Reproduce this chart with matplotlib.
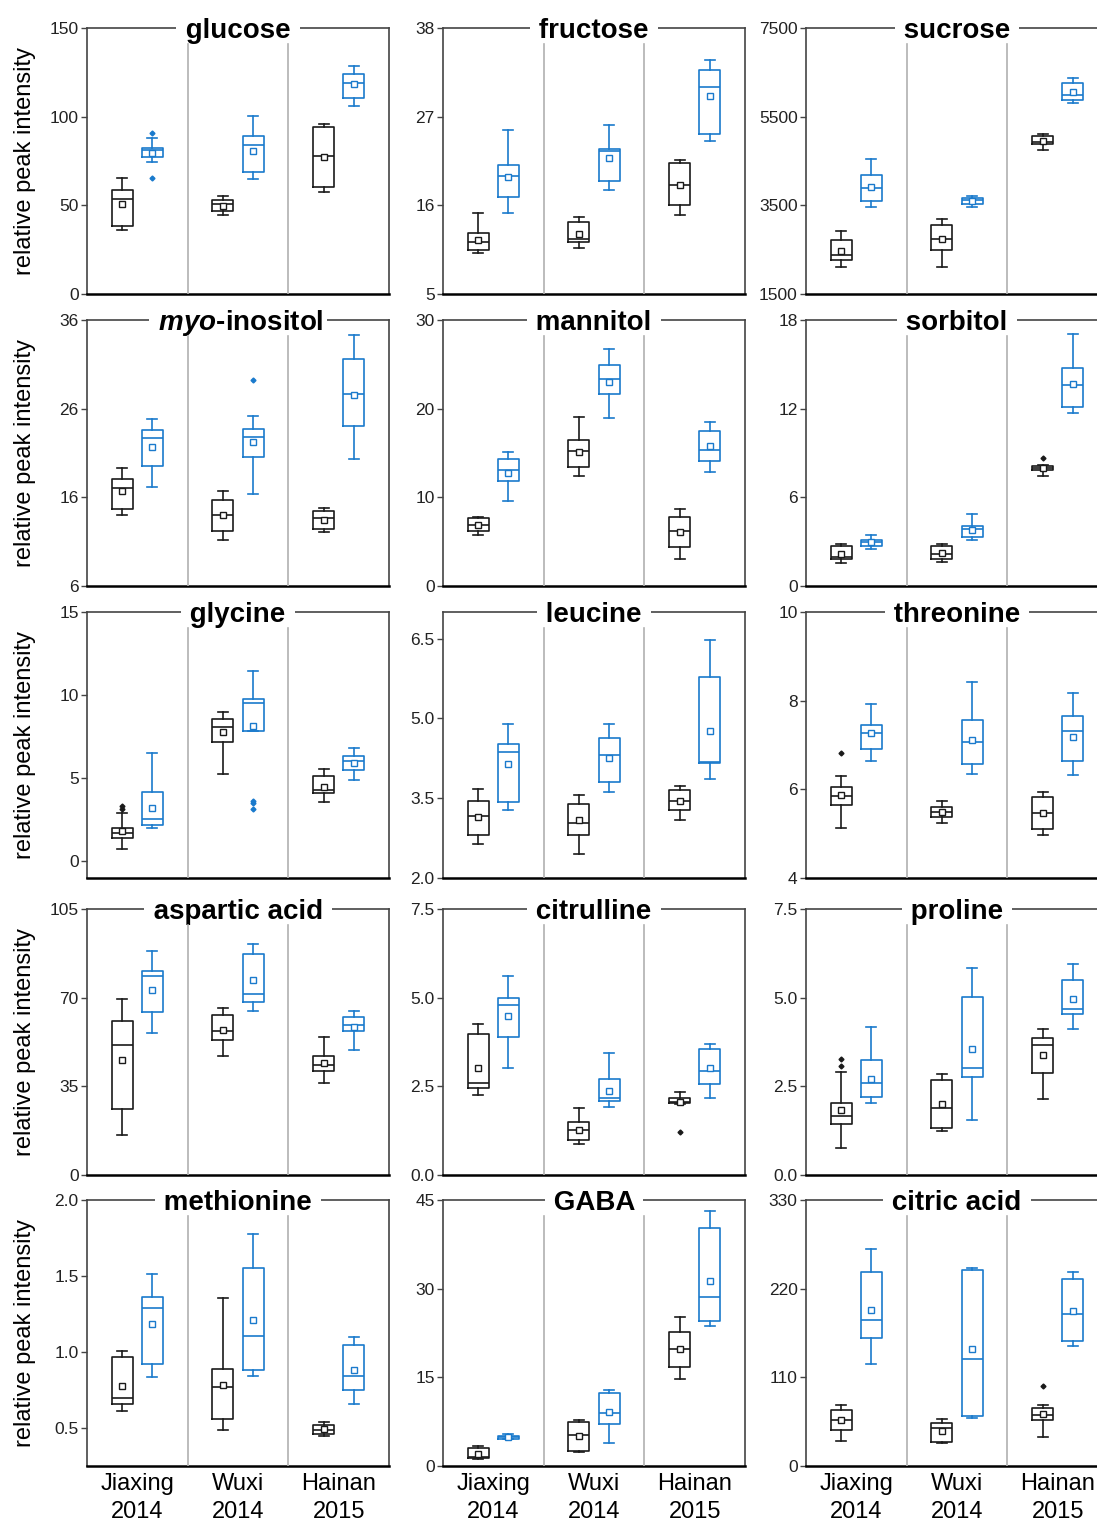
import matplotlib
matplotlib.use("Agg")
import matplotlib.pyplot as plt

plt.rcParams['font.family'] = ['Liberation Sans', 'DejaVu Sans']
plt.rcParams['mathtext.fontset'] = 'custom'
plt.rcParams['mathtext.bfit'] = 'Liberation Sans:italic:bold'
plt.rcParams['mathtext.rm'] = 'Liberation Sans:bold'

groups = ["Jiaxing\n2014", "Wuxi\n2014", "Hainan\n2015"]

# box order: Jiaxing black, Jiaxing blue, Wuxi black, Wuxi blue, Hainan black, Hainan blue
# columns: whisker low, q1, median, q3, whisker high, mean
glucose = [[36.1, 38.4, 53.6, 58.5, 65.5, 51.0],
           [74.2, 77.0, 81.1, 82.3, 88.1, 79.6],
           [44.6, 46.9, 51.0, 52.9, 55.0, 49.7],
           [64.7, 68.7, 84.3, 89.2, 100.3, 80.7],
           [57.6, 60.4, 77.9, 94.1, 95.8, 77.2],
           [106.2, 110.5, 118.8, 124.2, 128.4, 118.2]]
glucose_out = [[], [90.9, 65.3], [], [], [], []]

fructose = [[10.1, 10.4, 11.45, 12.6, 15.0, 11.7],
            [15.0, 17.0, 19.6, 21.0, 25.4, 19.5],
            [10.7, 11.4, 11.8, 13.9, 14.6, 12.4],
            [17.9, 19.0, 22.7, 23.0, 26.0, 21.9],
            [14.85, 16.05, 18.5, 21.2, 21.6, 18.5],
            [23.95, 24.9, 30.7, 32.8, 34.0, 29.6]]
fructose_out = [[], [], [], [], [], []]

sucrose = [[2117, 2267, 2380, 2718, 2929, 2470],
           [3462, 3598, 3891, 4184, 4538, 3921],
           [2102, 2492, 2748, 3056, 3199, 2741],
           [3455, 3530, 3613, 3658, 3711, 3598],
           [4741, 4891, 4921, 5056, 5102, 4959],
           [5801, 5884, 5981, 6260, 6380, 6049]]
sucrose_out = [[], [], [], [], [], []]

inositol = [[14.0, 14.7, 17.1, 18.1, 19.35, 16.7],
            [17.2, 19.5, 22.65, 23.55, 24.8, 21.7],
            [11.2, 12.2, 14.0, 15.7, 16.7, 14.0],
            [16.35, 20.55, 22.75, 23.75, 25.2, 22.2],
            [12.1, 12.45, 13.65, 14.5, 14.85, 13.45],
            [20.35, 24.0, 27.7, 31.6, 34.35, 27.55]]
inositol_out = [[], [], [], [29.2], [], []]

mannitol = [[5.7, 6.25, 6.9, 7.65, 7.75, 6.85],
            [9.6, 11.85, 13.1, 14.35, 15.1, 12.75],
            [12.45, 13.4, 15.2, 16.45, 19.1, 15.1],
            [18.9, 21.65, 23.3, 24.9, 26.75, 23.0],
            [3.0, 4.35, 6.2, 7.8, 8.7, 6.05],
            [12.85, 14.05, 15.35, 17.5, 18.45, 15.75]]
mannitol_out = [[], [], [], [], [], []]

sorbitol = [[1.58, 1.81, 1.96, 2.69, 2.87, 2.19],
            [2.48, 2.69, 3.0, 3.14, 3.46, 2.96],
            [1.63, 1.81, 2.15, 2.69, 2.82, 2.21],
            [3.09, 3.34, 3.84, 4.07, 4.9, 3.79],
            [7.45, 7.84, 7.97, 8.13, 8.2, 8.0],
            [11.74, 12.13, 13.57, 14.75, 17.03, 13.66]]
sorbitol_out = [[], [], [], [], [8.69], []]

glycine = [[0.76, 1.43, 1.71, 2.03, 2.91, 1.83],
           [2.03, 2.21, 2.57, 4.18, 6.51, 3.23],
           [5.26, 7.21, 8.07, 8.59, 9.0, 7.79],
           [7.85, 7.87, 9.5, 9.74, 11.47, 8.17],
           [3.55, 4.1, 4.3, 5.14, 5.58, 4.5],
           [4.92, 5.48, 6.06, 6.33, 6.79, 5.92]]
glycine_out = [[3.33, 3.15], [], [], [3.61, 3.49, 3.15], [], []]

leucine = [[2.63, 2.81, 3.17, 3.44, 3.68, 3.15],
           [3.28, 3.43, 4.37, 4.52, 4.9, 4.15],
           [2.45, 2.8, 3.04, 3.4, 3.56, 3.09],
           [3.62, 3.81, 4.32, 4.64, 4.9, 4.26],
           [3.09, 3.27, 3.45, 3.65, 3.73, 3.45],
           [3.86, 4.17, 4.18, 5.77, 6.48, 4.76]]
leucine_out = [[], [], [], [], [], []]

threonine = [[5.13, 5.64, 5.86, 6.05, 6.31, 5.87],
             [6.65, 6.91, 7.27, 7.44, 7.92, 7.26],
             [5.25, 5.37, 5.49, 5.6, 5.73, 5.48],
             [6.34, 6.57, 7.06, 7.56, 8.41, 7.12],
             [4.96, 5.1, 5.47, 5.83, 5.94, 5.46],
             [6.33, 6.64, 7.32, 7.66, 8.17, 7.19]]
threonine_out = [[6.81], [], [], [], [], []]

aspartic = [[15.8, 26.1, 51.3, 60.9, 69.4, 45.5],
            [56.0, 64.2, 78.5, 80.5, 88.3, 73.1],
            [47.0, 53.4, 56.8, 63.0, 65.9, 57.4],
            [64.8, 68.4, 71.4, 87.2, 91.3, 76.8],
            [36.2, 41.0, 43.3, 46.9, 54.3, 44.4],
            [49.5, 56.9, 59.4, 62.3, 64.6, 58.5]]
aspartic_out = [[], [], [], [], [], []]

citrulline = [[2.25, 2.46, 2.6, 3.98, 4.25, 3.03],
              [3.01, 3.89, 4.8, 5.0, 5.61, 4.47],
              [0.86, 1.0, 1.27, 1.49, 1.88, 1.28],
              [1.93, 2.08, 2.18, 2.7, 3.44, 2.37],
              [1.99, 2.04, 2.07, 2.18, 2.35, 2.05],
              [2.18, 2.56, 2.94, 3.56, 3.68, 3.03]]
citrulline_out = [[], [], [], [], [1.21], []]

proline = [[0.77, 1.43, 1.66, 2.02, 2.91, 1.84],
           [2.02, 2.21, 2.59, 3.24, 4.17, 2.7],
           [1.25, 1.33, 1.88, 2.67, 2.86, 2.0],
           [1.56, 2.75, 3.02, 5.03, 5.85, 3.54],
           [2.14, 2.87, 3.66, 3.86, 4.12, 3.37],
           [4.13, 4.55, 4.69, 5.51, 5.95, 4.97]]
proline_out = [[3.28, 3.07], [], [], [], [], []]

methionine = [[0.614, 0.66, 0.70, 0.969, 1.004, 0.776],
              [0.836, 0.919, 1.287, 1.36, 1.511, 1.182],
              [0.485, 0.557, 0.77, 0.888, 1.357, 0.785],
              [0.842, 0.884, 1.105, 1.555, 1.778, 1.208],
              [0.45, 0.463, 0.487, 0.522, 0.542, 0.491],
              [0.66, 0.75, 0.84, 1.044, 1.096, 0.879]]
methionine_out = [[], [], [], [], [], []]

gaba = [[1.18, 1.35, 1.52, 3.1, 3.33, 2.09],
        [4.51, 4.62, 4.9, 5.13, 5.41, 4.9],
        [2.37, 2.48, 5.25, 7.39, 7.78, 5.02],
        [3.95, 7.16, 8.97, 12.41, 12.86, 9.08],
        [14.78, 16.75, 19.85, 22.62, 25.15, 19.85],
        [23.69, 24.59, 28.6, 40.27, 43.15, 31.36]]
gaba_out = [[], [], [], [], [], []]

citric = [[31.4, 44.3, 57.5, 69.9, 76.1, 57.5],
          [127.0, 158.4, 181.1, 241.1, 269.6, 193.5],
          [28.1, 30.2, 46.7, 53.8, 58.7, 43.8],
          [60.0, 62.0, 132.8, 242.8, 246.1, 145.6],
          [35.6, 56.7, 63.7, 72.0, 75.3, 64.1],
          [148.5, 155.1, 189.0, 231.6, 241.1, 192.3]]
citric_out = [[], [], [], [], [99.3], []]

titles = ["glucose", "fructose", "sucrose",
          r"$\mathbfit{myo}$-inositol", "mannitol", "sorbitol",
          "glycine", "leucine", "threonine",
          "aspartic acid", "citrulline", "proline",
          "methionine", "GABA", "citric acid"]
stats = [glucose, fructose, sucrose, inositol, mannitol, sorbitol,
         glycine, leucine, threonine, aspartic, citrulline, proline,
         methionine, gaba, citric]
outliers = [glucose_out, fructose_out, sucrose_out, inositol_out, mannitol_out, sorbitol_out,
            glycine_out, leucine_out, threonine_out, aspartic_out, citrulline_out, proline_out,
            methionine_out, gaba_out, citric_out]
ylims = [(0, 150), (5, 38), (1500, 7500), (6, 36), (0, 30), (0, 18),
         (-1, 15), (2.0, 7.0), (4, 10), (0, 105), (0, 7.5), (0, 7.5),
         (0.25, 2.0), (0, 45), (0, 330)]
yticks = [[0, 50, 100, 150], [5, 16, 27, 38], [1500, 3500, 5500, 7500],
          [6, 16, 26, 36], [0, 10, 20, 30], [0, 6, 12, 18],
          [0, 5, 10, 15], [2.0, 3.5, 5.0, 6.5], [4, 6, 8, 10],
          [0, 35, 70, 105], [0, 2.5, 5.0, 7.5], [0, 2.5, 5.0, 7.5],
          [0.5, 1.0, 1.5, 2.0], [0, 15, 30, 45], [0, 110, 220, 330]]
yticklabels = [["0", "50", "100", "150"], ["5", "16", "27", "38"], ["1500", "3500", "5500", "7500"],
               ["6", "16", "26", "36"], ["0", "10", "20", "30"], ["0", "6", "12", "18"],
               ["0", "5", "10", "15"], ["2.0", "3.5", "5.0", "6.5"], ["4", "6", "8", "10"],
               ["0", "35", "70", "105"], ["0.0", "2.5", "5.0", "7.5"], ["0.0", "2.5", "5.0", "7.5"],
               ["0.5", "1.0", "1.5", "2.0"], ["0", "15", "30", "45"], ["0", "110", "220", "330"]]

black = '#1a1a1a'
blue = '#1a7acc'
positions = [0.35, 0.65, 1.35, 1.65, 2.35, 2.65]

col_left = [87, 443, 806]
row_top = [28, 320, 612, 909, 1200]
W, H = 302, 266
FW, FH = 1097, 1524

fig = plt.figure(figsize=(FW / 100, FH / 100), dpi=100)

for i in range(15):
    r, c = divmod(i, 3)
    ax = fig.add_axes([col_left[c] / FW, 1 - (row_top[r] + H) / FH, W / FW, H / FH])

    for k in range(6):
        s = stats[i][k]
        st = dict(whislo=s[0], q1=s[1], med=s[2], q3=s[3], whishi=s[4],
                  mean=s[5], fliers=outliers[i][k])
        col = black if k % 2 == 0 else blue
        ax.bxp([st], positions=[positions[k]], widths=0.21, capwidths=0.1,
               showmeans=True, manage_ticks=False,
               boxprops=dict(color=col, lw=1.2),
               whiskerprops=dict(color=col, lw=1.2),
               capprops=dict(color=col, lw=1.2),
               medianprops=dict(color=col, lw=1.2),
               meanprops=dict(marker='s', markerfacecolor='white', markeredgecolor=col,
                              markersize=4, markeredgewidth=1),
               flierprops=dict(marker='D', markerfacecolor=col, markeredgecolor=col,
                               markersize=2.5))

    for xs in [1, 2]:
        ax.axvline(xs, ymin=0, ymax=0.94, color='#b0b0b0', lw=1.2, zorder=4)

    ax.set_xlim(0, 3)
    ax.set_ylim(*ylims[i])
    ax.set_yticks(yticks[i])
    ax.set_yticklabels(yticklabels[i])
    ax.tick_params(axis='y', length=4, width=1, pad=2, labelsize=12.5,
                   color='#444', labelcolor='#222')

    if r == 4:
        ax.set_xticks([0.5, 1.5, 2.5])
        ax.set_xticklabels(groups, fontsize=17, linespacing=1.35)
        ax.tick_params(axis='x', length=0, pad=5)
    else:
        ax.set_xticks([])

    for side in ['left', 'top', 'right']:
        ax.spines[side].set_color('#444')
        ax.spines[side].set_linewidth(1.2)
    ax.spines['bottom'].set_color('black')
    ax.spines['bottom'].set_linewidth(1.8)

    ax.text(0.5, 0.99, " " + titles[i] + " ", transform=ax.transAxes,
            ha='center', va='center', fontsize=20, fontweight='bold', zorder=3,
            bbox=dict(boxstyle='square,pad=0.05', fc='white', ec='none'))

    if c == 0:
        ax.set_ylabel("relative peak intensity", fontsize=17)
        ax.yaxis.set_label_coords(-0.17, 0.5)

fig.savefig("out.png", dpi=100)
